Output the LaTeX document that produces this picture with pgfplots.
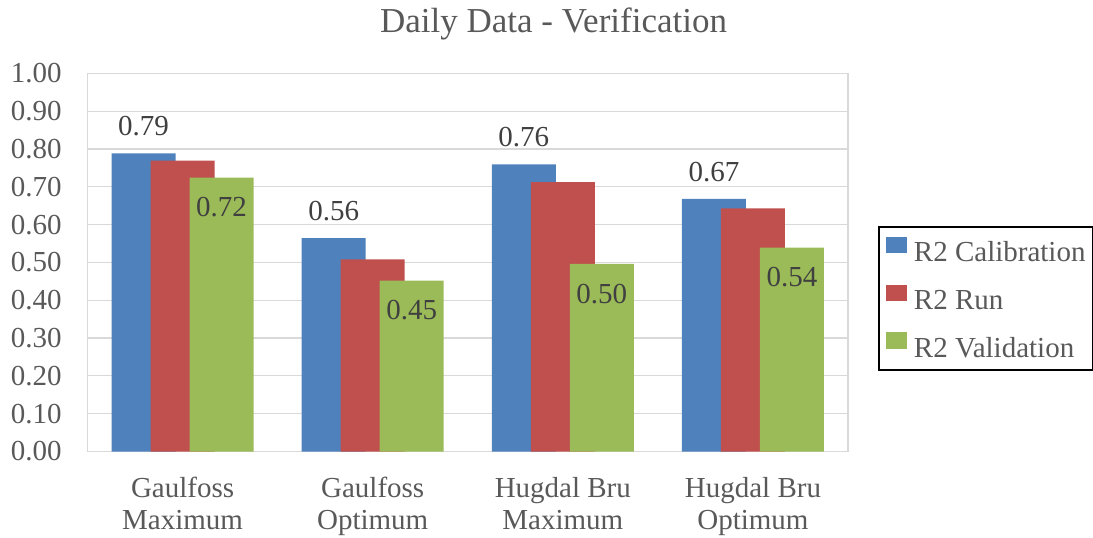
\documentclass[border=0pt]{standalone}
\usepackage{pgfplots}
\pgfplotsset{compat=1.18}
\usepackage{fontspec}
\setmainfont{Liberation Serif}
\definecolor{cBlue}{HTML}{4F81BD}
\definecolor{cRed}{HTML}{C0504D}
\definecolor{cGreen}{HTML}{9BBB59}
\definecolor{cText}{HTML}{595959}
\definecolor{cLab}{HTML}{404040}
\definecolor{cGrid}{HTML}{D9D9D9}
\begin{document}
\begin{tikzpicture}
\path[use as bounding box] (-43.75pt,-42.75pt) rectangle (502.75pt,225.75pt);
\begin{axis}[
  at={(0,0)}, anchor=south west,
  scale only axis, width=380.25pt, height=189.1pt,
  xmin=-0.5, xmax=3.5, ymin=0, ymax=1,
  ybar, bar width=0.3365,
  xtick={0,1,2,3},
  xticklabels={{Gaulfoss\\Maximum},{Gaulfoss\\Optimum},{Hugdal Bru\\Maximum},{Hugdal Bru\\Optimum}},
  ytick={0,0.1,0.2,0.3,0.4,0.5,0.6,0.7,0.8,0.9,1.0},
  yticklabel={\pgfmathprintnumber[fixed,fixed zerofill,precision=2,assume math mode=true]{\tick}},
  ymajorgrids, grid style={draw=cGrid, line width=0.6pt},
  axis line style={draw=cGrid, line width=0.6pt},
  major tick length=0pt, tick style={draw=none},
  yticklabel style={font=\fontsize{14.5}{17}\selectfont, text=cText, anchor=east, inner sep=0pt, xshift=-12.75pt},
  xticklabel style={align=center, font=\fontsize{14.5}{16}\selectfont, text=cText, anchor=north, inner sep=0pt, yshift=-12.6pt},
  title={Daily Data - Verification},
  every axis title shift=0pt,
  title style={at={(axis description cs:0.6128,1.1092)}, anchor=base, font=\fontsize{17.5}{21}\selectfont, text=cText, inner sep=0pt},
  legend cell align=left,
  legend image code/.code={\path[use as bounding box] (-3pt,0pt) rectangle (7.4pt,8.1pt); \fill[#1] (0pt,0.7pt) rectangle (7.4pt,8.1pt);},
  legend style={at={(axis description cs:1.0394,0.596)}, anchor=north west, draw=black, line width=0.8pt, fill=white,
    font=\fontsize{14.5}{17}\selectfont, text=cText, inner xsep=3.7pt, inner ysep=5pt, row sep=10pt, column sep=3.5pt,
    nodes={inner sep=0pt, text height=10pt, text depth=1.5pt}},
]
\addplot[fill=cBlue, draw=none, bar shift=-0.205,
  nodes near coords={\pgfmathprintnumber[fixed,fixed zerofill,precision=2,assume math mode=true]{\pgfplotspointmeta}},
  every node near coord/.append style={anchor=south, inner sep=0pt, yshift=8.5pt, text=cLab, font=\fontsize{14.5}{17}\selectfont}]
  coordinates {(0,0.788) (1,0.564) (2,0.759) (3,0.668)};
\addplot[fill=cRed, draw=none, bar shift=0]
  coordinates {(0,0.769) (1,0.508) (2,0.712) (3,0.643)};
\addplot[fill=cGreen, draw=none, bar shift=0.205,
  nodes near coords={\pgfmathprintnumber[fixed,fixed zerofill,precision=2,assume math mode=true]{\pgfplotspointmeta}},
  every node near coord/.append style={anchor=north, inner sep=0pt, yshift=-9.7pt, text=cLab, font=\fontsize{14.5}{17}\selectfont}]
  coordinates {(0,0.724) (1,0.452) (2,0.496) (3,0.539)};
\legend{R2 Calibration, R2 Run, R2 Validation}
\end{axis}
\end{tikzpicture}
\end{document}
